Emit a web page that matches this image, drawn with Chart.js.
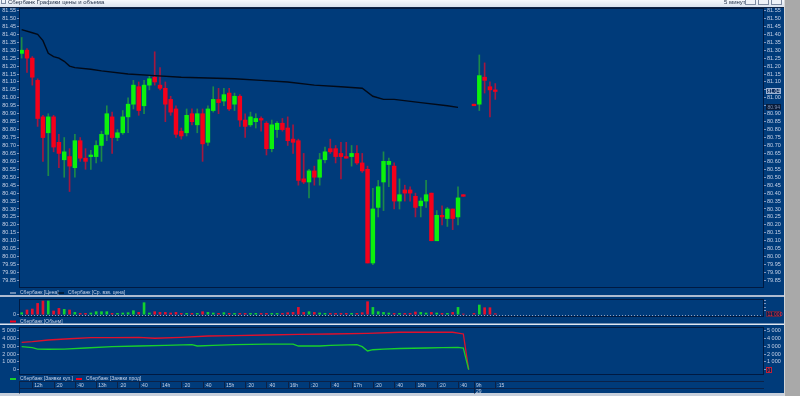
<!DOCTYPE html>
<html>
<head>
<meta charset="utf-8">
<script src="https://cdn.jsdelivr.net/npm/chart.js@4.4.0/dist/chart.umd.min.js"></script>
<style>
    body { margin: 0; width: 800px; height: 396px; overflow: hidden; position: relative; background: #a9a9a9; }
    canvas { position: absolute; left: 0; }
</style>
</head>
<body>
<canvas id="bg" width="800" height="396" style="top:0"></canvas>
<canvas id="price" width="785" height="294" style="top:3px"></canvas>
<canvas id="volume" width="785" height="29" style="top:296px"></canvas>
<canvas id="orders" width="785" height="73" style="top:323px"></canvas>
<script>
// 5-minute bars, slot 84 is the night gap between the two sessions
const open = [
    81.28, 81.30, 81.25, 81.11, 80.88, 80.78, 80.88, 80.72, 80.61, 80.63,
    80.56, 80.73, 80.62, 80.63, 80.63, 80.70, 80.77, 80.88, 80.75, 80.78,
    80.88, 80.96, 81.07, 80.95, 81.08, 81.13, 81.08, 81.06, 80.99, 80.93,
    80.79, 80.78, 80.90, 80.83, 80.90, 80.72, 80.92, 80.99, 80.98, 81.03,
    80.96, 81.01, 80.86, 80.83, 80.85, 80.87, 80.84, 80.68, 80.80, 80.84,
    80.81, 80.74, 80.73, 80.49, 80.47, 80.54, 80.50, 80.61, 80.68, 80.68,
    80.65, 80.63, 80.63, 80.65, 80.59, 80.55, 79.96, 80.31, 80.47, 80.58,
    80.57, 80.35, 80.42, 80.42, 80.38, 80.32, 80.35, 80.40, 80.10, 80.26,
    80.24, 80.30, 80.25, 80.39, null, 80.96, 80.96, 81.13, 81.07, 81.05
];
const high = [
    81.38, 81.31, 81.26, 81.12, 80.89, 80.90, 80.89, 80.77, 80.75, 80.68,
    80.77, 80.75, 80.68, 80.67, 80.73, 80.79, 80.95, 80.91, 80.80, 80.92,
    81.00, 81.11, 81.10, 81.11, 81.14, 81.29, 81.19, 81.10, 81.01, 80.95,
    80.81, 80.93, 80.93, 80.93, 80.93, 80.95, 81.07, 81.06, 81.06, 81.06,
    81.03, 81.02, 80.90, 80.91, 80.90, 80.88, 80.85, 80.86, 80.85, 80.87,
    80.88, 80.83, 80.74, 80.65, 80.55, 80.57, 80.65, 80.69, 80.74, 80.70,
    80.72, 80.72, 80.70, 80.70, 80.65, 80.57, 80.43, 80.48, 80.66, 80.62,
    80.59, 80.49, 80.45, 80.44, 80.40, 80.37, 80.48, 80.40, 80.29, 80.32,
    80.31, 80.30, 80.44, 80.39, null, 80.96, 81.27, 81.22, 81.10, 81.09
];
const low = [
    81.25, 81.16, 81.08, 80.82, 80.60, 80.51, 80.66, 80.56, 80.50, 80.41,
    80.50, 80.60, 80.55, 80.55, 80.59, 80.60, 80.73, 80.65, 80.73, 80.77,
    80.78, 80.93, 80.89, 80.90, 81.05, 81.08, 81.05, 80.85, 80.89, 80.75,
    80.74, 80.76, 80.83, 80.78, 80.60, 80.70, 80.91, 80.90, 80.95, 80.92,
    80.92, 80.82, 80.75, 80.82, 80.81, 80.79, 80.64, 80.66, 80.75, 80.79,
    80.70, 80.65, 80.45, 80.46, 80.37, 80.45, 80.45, 80.59, 80.65, 80.59,
    80.49, 80.62, 80.57, 80.58, 80.53, 79.96, 79.95, 80.25, 80.29, 80.44,
    80.30, 80.30, 80.35, 80.35, 80.25, 80.25, 80.31, 80.10, 80.10, 80.20,
    80.19, 80.17, 80.20, 80.38, null, 80.95, 80.92, 81.03, 80.88, 80.99
];
const close = [
    81.30, 81.25, 81.13, 80.87, 80.75, 80.88, 80.69, 80.65, 80.66, 80.57,
    80.73, 80.62, 80.60, 80.64, 80.70, 80.77, 80.90, 80.75, 80.78, 80.88,
    80.96, 81.08, 80.92, 81.08, 81.12, 81.10, 81.06, 80.96, 80.91, 80.77,
    80.76, 80.89, 80.85, 80.90, 80.71, 80.93, 80.99, 80.97, 81.02, 80.93,
    81.01, 80.86, 80.82, 80.88, 80.87, 80.86, 80.68, 80.83, 80.84, 80.80,
    80.73, 80.72, 80.48, 80.47, 80.54, 80.50, 80.61, 80.66, 80.66, 80.63,
    80.63, 80.62, 80.65, 80.59, 80.54, 79.96, 80.30, 80.44, 80.60, 80.60,
    80.35, 80.39, 80.40, 80.40, 80.31, 80.35, 80.39, 80.10, 80.26, 80.25,
    80.30, 80.24, 80.37, 80.38, null, 80.95, 81.14, 81.11, 81.05, 81.04
];
const volume = [
    2000, 4700, 5700, 11300, 13700, 13700, 3700, 6300, 5300, 4700,
    2300, 1300, 1300, 1700, 3000, 3000, 3000, 1300, 1300, 1700,
    2000, 4000, 2300, 12000, 1700, 3000, 2300, 2300, 1700, 2300,
    1300, 1300, 1300, 1300, 3000, 2300, 1700, 1300, 2000, 1300,
    1300, 1300, 1300, 1300, 1300, 1300, 1300, 1300, 1300, 1300,
    2000, 2300, 7300, 2300, 3000, 2300, 1700, 1300, 1300, 1300,
    1300, 1300, 1300, 1300, 2000, 13000, 7300, 3000, 2300, 1700,
    1300, 1300, 1300, 1300, 2700, 2300, 1700, 2300, 1700, 1300,
    1300, 2300, 7300, 700, null, 1300, 9700, 7000, 7000, 1000
];

// weighted average price, read at these bars
const vwapBar = [0, 2, 3, 4, 5, 6, 7, 8, 9, 10, 13, 15, 20, 25, 30, 35, 40, 45, 50, 55, 60, 64, 66, 68, 70, 75, 80, 82];
const vwap = [81.43, 81.41, 81.40, 81.36, 81.28, 81.26, 81.25, 81.23, 81.20, 81.19, 81.18, 81.17, 81.15, 81.14, 81.13, 81.125, 81.12, 81.11, 81.10, 81.08, 81.07, 81.06, 81.01, 80.99, 80.99, 80.97, 80.95, 80.94];

// bid / ask order counts
const buyBar = [0, 2, 3, 5, 8, 12, 17, 22, 27, 32, 33, 36, 40, 46, 51, 52, 56, 58, 63, 64, 65, 66, 68, 71, 76, 79, 82, 83, 84];
const buyOrders = [2950, 2820, 2650, 2620, 2650, 2780, 2950, 3040, 3130, 3210, 3040, 3130, 3210, 3290, 3290, 3040, 3040, 3130, 3210, 2950, 2400, 2560, 2650, 2720, 2780, 2820, 2870, 2780, 0];
const sellBar = [0, 2, 5, 9, 13, 17, 22, 25, 30, 35, 40, 46, 52, 58, 65, 71, 76, 81, 83, 84];
const sellOrders = [3510, 3590, 3810, 3970, 4100, 4100, 4150, 4030, 4150, 4320, 4360, 4450, 4540, 4580, 4670, 4800, 4800, 4800, 4580, 0];

// axis ticks
const priceTicks = [81.55, 81.50, 81.45, 81.40, 81.35, 81.30, 81.25, 81.20, 81.15, 81.10, 81.05, 81.00, 80.95, 80.90, 80.85, 80.80, 80.75, 80.70, 80.65, 80.60, 80.55, 80.50, 80.45, 80.40, 80.35, 80.30, 80.25, 80.20, 80.15, 80.10, 80.05, 80.00, 79.95, 79.90, 79.85];
const orderTicks = [5000, 4000, 3000, 2000, 1000, 0];
const timeTickBar = [2, 6, 10, 14, 18, 22, 26, 30, 34, 38, 42, 46, 50, 54, 58, 62, 66, 70, 74, 78, 82, 85, 89];
const timeTickLabel = ['12h', ':20', ':40', '13h', ':20', ':40', '14h', ':20', ':40', '15h', ':20', ':40', '16h', ':20', ':40', '17h', ':20', ':40', '18h', ':20', ':40', '9h', ':15'];
const dayBreakBar = 85;
const dayLabel = '29';
const volumeTag = '11 000';

const PANEL = '#003b7a';
const FRAME = '#001a42';
const TEXT = '#c4d0e6';
const GREEN = '#0cf20c';
const RED = '#f5001a';
const FONT = '"Liberation Sans", Arial, sans-serif';

const lastClose = close[close.length - 1];
const lastVwap = vwap[vwap.length - 1];
const isUp = i => close[i] >= open[i];
const slots = open.map((v, i) => i).filter(i => open[i] !== null);

// ---------- static window decoration, legends ----------
const bg = document.getElementById('bg').getContext('2d');
bg.fillStyle = '#a9a9a9';
bg.fillRect(0, 0, 800, 396);
bg.fillStyle = PANEL;
bg.fillRect(0, 7, 785, 389);

const title = bg.createLinearGradient(0, 0, 0, 7);
title.addColorStop(0, '#f5f8fc');
title.addColorStop(1, '#d9e2ee');
bg.fillStyle = title;
bg.fillRect(0, 0, 785, 7);
bg.fillStyle = '#0d2346';
bg.fillRect(0, 7, 785, 1);
bg.fillStyle = '#1d2c44';
bg.font = '6px ' + FONT;
bg.textBaseline = 'alphabetic';
bg.fillText('Сбербанк Графики цены и объема', 8, 4);
bg.fillText('5 минут', 724, 4);
bg.strokeStyle = '#7d8ba2';
bg.strokeRect(1.5, -1.5, 4, 5);
[745, 758, 771].forEach(x => {
    bg.fillStyle = '#eef2f8';
    bg.fillRect(x, 0, 10, 5);
    bg.strokeRect(x + 0.5, -0.5, 10, 5);
});

// panel separators
bg.fillStyle = '#aebbd0';
bg.fillRect(0, 295, 785, 2);
bg.fillStyle = '#dfe6f0';
bg.fillRect(0, 323.5, 785, 1.5);
bg.fillStyle = '#c7cfdb';
bg.fillRect(0, 393, 785, 3);
bg.fillStyle = '#d6d6d6';
bg.fillRect(784, 0, 1, 396);

// legends
const legendItem = (x, y, color, width, text) => {
    bg.strokeStyle = color;
    bg.lineWidth = width;
    bg.beginPath();
    bg.moveTo(x, y);
    bg.lineTo(x + 6, y);
    bg.stroke();
    bg.fillStyle = TEXT;
    bg.font = '5px ' + FONT;
    bg.textBaseline = 'middle';
    bg.fillText(text, x + 10, y);
};
legendItem(10, 293, '#d0d8e8', 1, 'Сбербанк [Цена]');
legendItem(58, 293, '#000000', 1, 'Сбербанк [Ср. взв. цена]');
legendItem(10, 321.5, RED, 2, 'Сбербанк [Объем]');
legendItem(10, 379, '#18d02c', 2, 'Сбербанк [Заявки куп.]');
legendItem(76, 379, RED, 2, 'Сбербанк [Заявки прод]');

// ---------- shared chart pieces ----------
const frame = {
    id: 'frame',
    afterDraw(chart) {
        const { ctx, chartArea: a } = chart;
        ctx.save();
        ctx.strokeStyle = FRAME;
        ctx.lineWidth = 1;
        ctx.strokeRect(a.left + 0.5, a.top + 0.5, a.right - a.left - 1, a.bottom - a.top - 1);
        ctx.restore();
    }
};

const tickFont = { family: FONT, size: 5.5 };

// fixed-width side axis; drop the label padding so the plot area stays put
const sideAxis = (position, width, min, max, ticks, label) => ({
    position: position,
    min: min,
    max: max,
    afterBuildTicks: s => { s.ticks = ticks.map(v => ({ value: v })); },
    afterFit: s => { s.width = width; s.paddingTop = 0; s.paddingBottom = 0; },
    ticks: { font: tickFont, color: TEXT, padding: 1, autoSkip: false, callback: label },
    grid: { drawOnChartArea: false, tickLength: 2, color: '#7b95c0', tickColor: '#7b95c0' },
    border: { display: false }
});

const timeScale = { type: 'linear', min: -0.5, max: 139.5, offset: false, display: false };

// small value tag on the right axis
const drawTag = (ctx, x, y, w, text, fill, stroke, color) => {
    ctx.fillStyle = fill;
    ctx.fillRect(x, y - 3, w, 6);
    if (stroke) {
        ctx.strokeStyle = stroke;
        ctx.lineWidth = 1;
        ctx.strokeRect(x + 0.5, y - 2.5, w - 1, 5);
    }
    ctx.fillStyle = color;
    ctx.font = '5px ' + FONT;
    ctx.textAlign = 'left';
    ctx.textBaseline = 'middle';
    ctx.fillText(text, x + 1.5, y + 0.3);
};

// ---------- price panel ----------
const priceTags = {
    id: 'priceTags',
    afterDraw(chart) {
        const { ctx, chartArea: a } = chart;
        const s = chart.scales.y2;
        ctx.save();
        drawTag(ctx, a.right + 2, Math.round(s.getPixelForValue(lastVwap)), 15, lastVwap.toFixed(2), '#071a38', null, '#7e92b4');
        drawTag(ctx, a.right + 2, Math.round(s.getPixelForValue(lastClose)), 15, lastClose.toFixed(2), '#0c2d5e', '#9db2d4', '#dbe5f5');
        ctx.restore();
    }
};

const priceMin = 79.8025;
const priceMax = 81.5657;

new Chart(document.getElementById('price'), {
    type: 'bar',
    data: {
        datasets: [
            {
                type: 'line',
                label: 'Сбербанк [Ср. взв. цена]',
                data: vwapBar.map((b, k) => ({ x: b, y: vwap[k] })),
                borderColor: '#020a18',
                borderWidth: 1.4,
                pointRadius: 0,
                tension: 0,
                order: 0
            },
            {
                label: 'Сбербанк [Цена]',
                data: slots.map(i => ({ x: i, y: [open[i], close[i]] })),
                backgroundColor: ctx => (ctx.raw && !isUp(ctx.raw.x)) ? RED : GREEN,
                barThickness: 3.8,
                minBarLength: 1,
                grouped: false,
                order: 1
            },
            {
                label: 'wicks',
                data: slots.map(i => ({ x: i, y: [low[i], high[i]] })),
                backgroundColor: ctx => (ctx.raw && !isUp(ctx.raw.x)) ? '#a3173f' : '#1d8a48',
                barThickness: 1,
                minBarLength: 1,
                grouped: false,
                order: 2
            }
        ]
    },
    options: {
        responsive: false,
        animation: false,
        devicePixelRatio: 1,
        layout: { padding: { top: 5, bottom: 9, left: 0, right: 0 } },
        plugins: { legend: { display: false }, tooltip: { enabled: false } },
        scales: {
            x: timeScale,
            y: sideAxis('left', 19, priceMin, priceMax, priceTicks, v => v.toFixed(2)),
            y2: sideAxis('right', 21, priceMin, priceMax, priceTicks, v =>
                (Math.abs(v - lastClose) < 0.025 || Math.abs(v - lastVwap) < 0.025) ? '' : v.toFixed(2))
        }
    },
    plugins: [frame, priceTags]
});

// ---------- volume panel ----------
const volumeDecor = {
    id: 'volumeDecor',
    beforeDatasetsDraw(chart) {
        const { ctx, chartArea: a } = chart;
        const y = Math.round(chart.scales.y.getPixelForValue(0)) + 0.5;
        ctx.save();
        ctx.strokeStyle = '#8fa2c2';
        ctx.setLineDash([1, 2]);
        ctx.beginPath();
        ctx.moveTo(a.left, y);
        ctx.lineTo(a.right, y);
        ctx.stroke();
        ctx.restore();
    },
    afterDraw(chart) {
        const { ctx, chartArea: a } = chart;
        ctx.save();
        drawTag(ctx, a.right + 2, Math.round(chart.scales.y2.getPixelForValue(0)) - 1, 15, volumeTag, '#0a2450', '#5a2a4a', '#ff2a3a');
        ctx.restore();
    }
};

new Chart(document.getElementById('volume'), {
    type: 'bar',
    data: {
        datasets: [{
            label: 'Сбербанк [Объем]',
            data: slots.map(i => ({ x: i, y: volume[i] })),
            backgroundColor: ctx => (ctx.raw && !isUp(ctx.raw.x)) ? '#e8102c' : '#12d22e',
            barThickness: 2,
            grouped: false
        }]
    },
    options: {
        responsive: false,
        animation: false,
        devicePixelRatio: 1,
        layout: { padding: { top: 3, bottom: 8, left: 0, right: 0 } },
        plugins: { legend: { display: false }, tooltip: { enabled: false } },
        scales: {
            x: timeScale,
            y: sideAxis('left', 19, -2300, 15700, [0], v => String(v)),
            y2: sideAxis('right', 21, -2300, 15700, [4000, 7500, 11000, 14000], () => '')
        }
    },
    plugins: [frame, volumeDecor]
});

// ---------- orders panel + time axis ----------
const fmtThousands = v => v === 0 ? '0' : (v / 1000) + ' 000';

const timeAxis = {
    id: 'timeAxis',
    afterDraw(chart) {
        const { ctx, chartArea: a } = chart;
        const xs = chart.scales.x;
        const top = a.bottom + 6.5;
        const mid = top + 7;
        ctx.save();
        ctx.strokeStyle = '#0b2248';
        ctx.lineWidth = 1;
        ctx.beginPath();
        ctx.moveTo(a.left, top);
        ctx.lineTo(a.right, top);
        ctx.moveTo(a.left, mid);
        ctx.lineTo(a.right, mid);
        ctx.moveTo(a.left + 0.5, top);
        ctx.lineTo(a.left + 0.5, mid + 5);
        timeTickBar.forEach(b => {
            const px = Math.round(xs.getPixelForValue(b)) + 0.5;
            ctx.moveTo(px, top);
            ctx.lineTo(px, mid);
        });
        const dx = Math.round(xs.getPixelForValue(dayBreakBar)) + 0.5;
        ctx.moveTo(dx, mid);
        ctx.lineTo(dx, mid + 5);
        ctx.stroke();

        ctx.fillStyle = TEXT;
        ctx.font = '5px ' + FONT;
        ctx.textAlign = 'left';
        ctx.textBaseline = 'middle';
        timeTickBar.forEach((b, k) => {
            ctx.fillText(timeTickLabel[k], xs.getPixelForValue(b) + 2, top + 3.7);
        });
        ctx.fillText(dayLabel, dx + 1.5, mid + 3);

        drawTag(ctx, a.right + 2, Math.round(chart.scales.y2.getPixelForValue(0)), 6, '0', '#0a2450', '#c0203a', '#ff3a4a');
        ctx.restore();
    }
};

new Chart(document.getElementById('orders'), {
    type: 'line',
    data: {
        datasets: [
            {
                label: 'Сбербанк [Заявки куп.]',
                data: buyBar.map((b, k) => ({ x: b, y: buyOrders[k] })),
                borderColor: '#18d02c',
                borderWidth: 1.3,
                pointRadius: 0,
                tension: 0,
                order: 0
            },
            {
                label: 'Сбербанк [Заявки прод]',
                data: sellBar.map((b, k) => ({ x: b, y: sellOrders[k] })),
                borderColor: '#e0102c',
                borderWidth: 1.3,
                pointRadius: 0,
                tension: 0,
                order: 1
            }
        ]
    },
    options: {
        responsive: false,
        animation: false,
        devicePixelRatio: 1,
        layout: { padding: { top: 4, bottom: 21, left: 0, right: 0 } },
        plugins: { legend: { display: false }, tooltip: { enabled: false } },
        scales: {
            x: timeScale,
            y: sideAxis('left', 19, -680, 5475, orderTicks, fmtThousands),
            y2: sideAxis('right', 21, -680, 5475, orderTicks, v => v === 0 ? '' : fmtThousands(v))
        }
    },
    plugins: [frame, timeAxis]
});
</script>
</body>
</html>
